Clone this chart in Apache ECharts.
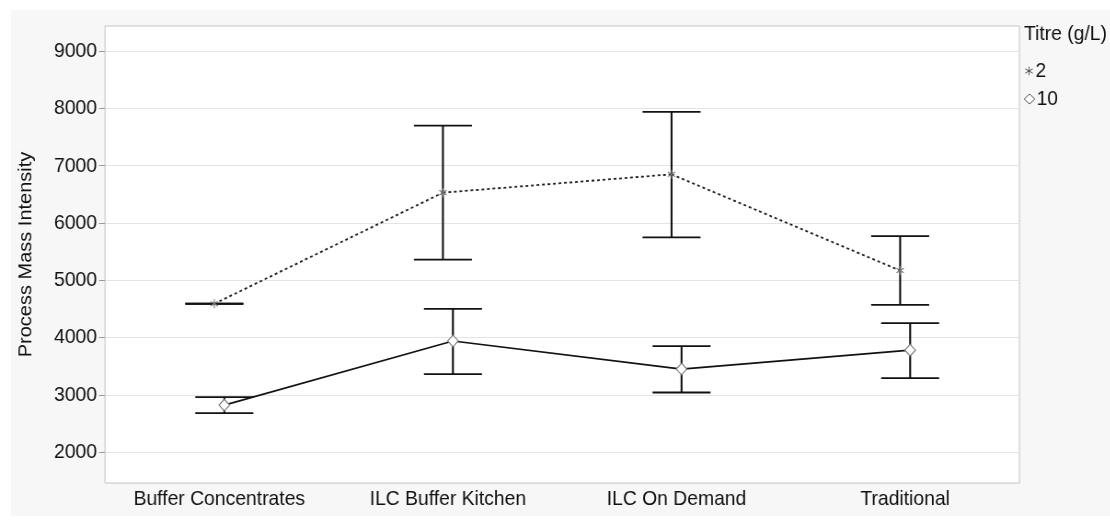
<!DOCTYPE html>
<html>
<head>
<meta charset="utf-8">
<script src="https://cdn.jsdelivr.net/npm/echarts@6/dist/echarts.min.js"></script>
<style>
html,body{margin:0;padding:0;background:#ffffff;width:1110px;height:522px;overflow:hidden;}
#chart{width:1207px;height:522px;transform:scaleX(0.92);transform-origin:0 0;}
</style>
</head>
<body>
<div id="chart"></div>
<script>
const categories = ['Buffer Concentrates', 'ILC Buffer Kitchen', 'ILC On Demand', 'Traditional'];
const seriesNames = ['2', '10'];
const legendTitle = 'Titre (g/L)';
const mean2 = [4590, 6530, 6850, 5170];
const low2  = [4590, 5360, 5750, 4570];
const high2 = [4590, 7700, 7940, 5770];
const mean10 = [2820, 3940, 3450, 3780];
const low10  = [2680, 3360, 3040, 3290];
const high10 = [2960, 4500, 3850, 4250];
const yTicks = [2000, 3000, 4000, 5000, 6000, 7000, 8000, 9000];
const yMin = 1460, yMax = 9440;

const S = 0.92; // horizontal squeeze of the page
const FONT = 'Liberation Sans, Arial, sans-serif';
const px = v => v / S;

function makeRender(means, dx, kind) {
  return function (params, api) {
    const i = api.value(0);
    const m = api.value(1), lo = api.value(2), hi = api.value(3);
    const pm = api.coord([i, m]);
    const plo = api.coord([i, lo]);
    const phi = api.coord([i, hi]);
    const x = pm[0] + dx;
    const cap = px(29);
    const children = [];
    const hStyle = { stroke: '#111', lineWidth: 1.8 };
    const vStyle = { stroke: '#111', lineWidth: 2.1 };
    if (i < means.length - 1) {
      const pn = api.coord([i + 1, means[i + 1]]);
      children.push({
        type: 'line', z2: 1,
        shape: { x1: x, y1: pm[1], x2: pn[0] + dx, y2: pn[1] },
        style: kind === 'star'
          ? { stroke: '#222', lineWidth: 1.8, lineDash: [3, 3] }
          : { stroke: '#111', lineWidth: 1.7 }
      });
    }
    children.push({ type: 'line', z2: 2, shape: { x1: x, y1: plo[1], x2: x, y2: phi[1] }, style: vStyle });
    children.push({ type: 'line', z2: 2, shape: { x1: x - cap, y1: plo[1], x2: x + cap, y2: plo[1] }, style: hStyle });
    children.push({ type: 'line', z2: 2, shape: { x1: x - cap, y1: phi[1], x2: x + cap, y2: phi[1] }, style: hStyle });
    const y = pm[1];
    if (kind === 'star') {
      const r = 4.6;
      const ms = { stroke: '#777', lineWidth: 1.1 };
      children.push({ type: 'line', z2: 3, shape: { x1: x, y1: y - r, x2: x, y2: y + r }, style: ms });
      children.push({ type: 'line', z2: 3, shape: { x1: x - r * 0.87, y1: y - r * 0.5, x2: x + r * 0.87, y2: y + r * 0.5 }, style: ms });
      children.push({ type: 'line', z2: 3, shape: { x1: x - r * 0.87, y1: y + r * 0.5, x2: x + r * 0.87, y2: y - r * 0.5 }, style: ms });
    } else {
      const rx = px(5.3), ry = 5.8;
      children.push({
        type: 'polygon', z2: 3,
        shape: { points: [[x, y - ry], [x + rx, y], [x, y + ry], [x - rx, y]] },
        style: { fill: '#fff', stroke: '#777', lineWidth: 1.1 }
      });
    }
    return { type: 'group', children: children };
  };
}

function buildData(means, lows, highs) {
  return means.map((m, i) => [i, m, lows[i], highs[i]]);
}

const chart = echarts.init(document.getElementById('chart'), null, { renderer: 'canvas' });

const sx = px(1029), sy = 71, sr = 4.3;
const dxc = px(1029.5), dyc = 99;
const option = {
  backgroundColor: '#ffffff',
  animation: false,
  graphic: [
    { type: 'rect', z: -10, silent: true, shape: { x: px(11), y: 10, width: 1300, height: 506 }, style: { fill: '#f7f7f7' } },
    { type: 'text', x: px(1024), y: 24, style: { text: legendTitle, font: '21px ' + FONT, fill: '#111' } },
    { type: 'line', shape: { x1: sx, y1: sy - sr, x2: sx, y2: sy + sr }, style: { stroke: '#555', lineWidth: 1 } },
    { type: 'line', shape: { x1: sx - sr * 0.87 / S, y1: sy - sr * 0.5, x2: sx + sr * 0.87 / S, y2: sy + sr * 0.5 }, style: { stroke: '#555', lineWidth: 1 } },
    { type: 'line', shape: { x1: sx - sr * 0.87 / S, y1: sy + sr * 0.5, x2: sx + sr * 0.87 / S, y2: sy - sr * 0.5 }, style: { stroke: '#555', lineWidth: 1 } },
    { type: 'text', x: px(1035.5), y: 61, style: { text: seriesNames[0], font: '21px ' + FONT, fill: '#111' } },
    { type: 'polygon', shape: { points: [[dxc, dyc - 5], [dxc + px(5.3), dyc], [dxc, dyc + 5], [dxc - px(5.3), dyc]] }, style: { fill: '#fff', stroke: '#555', lineWidth: 1 } },
    { type: 'text', x: px(1036.5), y: 89, style: { text: seriesNames[1], font: '21px ' + FONT, fill: '#111' } }
  ],
  grid: {
    left: px(105), top: 26, right: px(91), bottom: 39,
    show: true, backgroundColor: '#ffffff', borderColor: '#c4c4c4', borderWidth: 1
  },
  xAxis: {
    type: 'category',
    data: categories,
    boundaryGap: true,
    axisLine: { show: false },
    axisTick: { show: false },
    axisLabel: { interval: 0, color: '#111', fontFamily: FONT, fontSize: 21, margin: 6 },
    splitLine: { show: false }
  },
  yAxis: {
    type: 'value',
    min: yMin, max: yMax,
    name: 'Process Mass Intensity',
    nameLocation: 'middle',
    nameGap: 76,
    nameRotate: 90,
    nameTextStyle: { color: '#111', fontFamily: FONT, fontSize: 20 },
    axisLine: { show: false },
    axisTick: { show: true, customValues: yTicks, length: px(6), lineStyle: { color: '#999' } },
    axisLabel: { customValues: yTicks, formatter: v => String(v), color: '#111', fontFamily: FONT, fontSize: 21, margin: px(8) },
    splitLine: { show: true, lineStyle: { color: '#e4e4e4', width: 1 } }
  },
  series: [
    {
      name: seriesNames[0], type: 'custom', coordinateSystem: 'cartesian2d',
      encode: { x: 0, y: [1, 2, 3] },
      data: buildData(mean2, low2, high2),
      renderItem: makeRender(mean2, px(-5), 'star'),
      z: 3
    },
    {
      name: seriesNames[1], type: 'custom', coordinateSystem: 'cartesian2d',
      encode: { x: 0, y: [1, 2, 3] },
      data: buildData(mean10, low10, high10),
      renderItem: makeRender(mean10, px(5), 'diamond'),
      z: 3
    }
  ]
};
chart.setOption(option);
</script>
</body>
</html>
